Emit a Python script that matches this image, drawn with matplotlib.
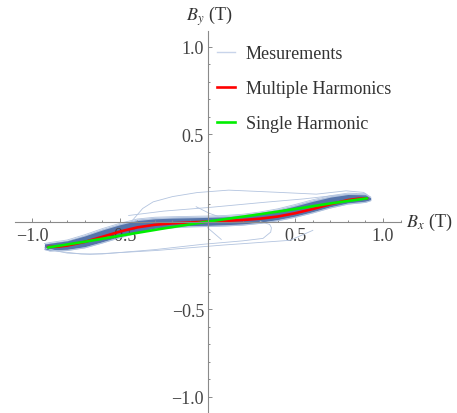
import matplotlib
matplotlib.use("Agg")
import matplotlib.pyplot as plt
from matplotlib.lines import Line2D
from matplotlib.ticker import FixedLocator, MultipleLocator, FuncFormatter

plt.rcParams['font.family'] = ['Liberation Serif', 'DejaVu Serif']
plt.rcParams['mathtext.fontset'] = 'stix'

# measurement band (dense cloud of measured loops)
mes_x = [-0.93, -0.9, -0.8, -0.7, -0.6, -0.5, -0.4, -0.3, -0.2, -0.1, 0.0,
         0.1, 0.2, 0.3, 0.4, 0.5, 0.6, 0.7, 0.8, 0.9, 0.93]
mes_outer_up = [-0.125, -0.12, -0.105, -0.075, -0.04, -0.01, 0.015, 0.025, 0.028, 0.03, 0.032,
                0.035, 0.042, 0.055, 0.073, 0.098, 0.125, 0.148, 0.163, 0.16, 0.14]
mes_outer_lo = [-0.16, -0.168, -0.165, -0.15, -0.122, -0.092, -0.065, -0.045, -0.035, -0.03, -0.028,
                -0.025, -0.02, -0.01, 0.005, 0.025, 0.05, 0.078, 0.1, 0.11, 0.12]
mes_inner_up = [-0.128, -0.124, -0.11, -0.082, -0.048, -0.018, 0.006, 0.016, 0.02, 0.022, 0.024,
                0.027, 0.034, 0.046, 0.064, 0.089, 0.116, 0.14, 0.155, 0.153, 0.136]
mes_inner_lo = [-0.157, -0.162, -0.158, -0.143, -0.115, -0.085, -0.058, -0.038, -0.028, -0.023, -0.021,
                -0.018, -0.013, -0.003, 0.012, 0.032, 0.057, 0.085, 0.107, 0.117, 0.124]

# stray measured loops
stray_a_x = [-0.43, -0.40, -0.37, -0.31, -0.2, -0.06, 0.12, 0.41, 0.62, 0.79, 0.89, 0.93]
stray_a_y = [0.005, 0.04, 0.075, 0.113, 0.143, 0.166, 0.18, 0.167, 0.157, 0.176, 0.167, 0.138]
stray_b_x = [-0.45, -0.25, 0.01, 0.32, 0.55, 0.7, 0.85]
stray_b_y = [0.035, 0.06, 0.081, 0.11, 0.13, 0.147, 0.16]
stray_c_x = [-0.9, -0.8, -0.67, -0.29, 0.09, 0.47, 0.6]
stray_c_y = [-0.16, -0.18, -0.187, -0.165, -0.134, -0.107, -0.05]
stray_d_x = [-0.93, -0.85, -0.72, -0.6, -0.3, -0.03, 0.2, 0.316, 0.36, 0.364, 0.354, 0.3]
stray_d_y = [-0.15, -0.17, -0.185, -0.185, -0.16, -0.13, -0.11, -0.096, -0.06, -0.035, -0.016, 0.0]
stray_e_x = [-0.065, 0.011, 0.06]
stray_e_y = [0.085, 0.047, 0.03]
stray_f_x = [0.0, 0.078]
stray_f_y = [-0.035, -0.102]

# fits
multi_x = [-0.91, -0.85, -0.8, -0.7, -0.6, -0.5, -0.4, -0.3, -0.2, -0.1, 0.0,
           0.1, 0.2, 0.3, 0.4, 0.5, 0.6, 0.7, 0.8, 0.86, 0.91]
multi_y = [-0.145, -0.143, -0.137, -0.116, -0.087, -0.057, -0.033, -0.018, -0.010, -0.005, 0.0,
           0.004, 0.009, 0.017, 0.029, 0.048, 0.072, 0.099, 0.123, 0.131, 0.133]
single_x = [-0.91, -0.7, -0.5, -0.25, 0.0, 0.25, 0.5, 0.7, 0.91]
single_y = [-0.148, -0.115, -0.081, -0.039, 0.0, 0.035, 0.072, 0.104, 0.133]

major_ticks = [-1.0, -0.5, 0.5, 1.0]

fig = plt.figure(figsize=(4.57, 4.14), dpi=100)
ax = fig.add_axes([0.0339, 0.0018, 0.8425, 0.921])
ax.set_xlim(-1.095, 1.1)
ax.set_ylim(-1.09, 1.09)

light = '#b3c4df'
ax.fill_between(mes_x, mes_outer_lo, mes_outer_up, color='#7f9cc9', alpha=0.6, lw=0)
ax.fill_between(mes_x, mes_inner_lo, mes_inner_up, color='#4b6ca5', alpha=0.9, lw=0)
ax.plot(mes_x, mes_outer_up, color=light, lw=0.6)
ax.plot(mes_x, mes_outer_lo, color=light, lw=0.6)
for sx, sy in [(stray_a_x, stray_a_y), (stray_b_x, stray_b_y), (stray_c_x, stray_c_y),
               (stray_d_x, stray_d_y), (stray_e_x, stray_e_y), (stray_f_x, stray_f_y)]:
    ax.plot(sx, sy, color=light, lw=0.6)

ax.plot(multi_x, multi_y, color='#ff0000', lw=1.9, solid_capstyle='round')
ax.plot(single_x, single_y, color='#00ee00', lw=1.9, solid_capstyle='round')

# axes through the origin, Mathematica style
gray = '#8a8a8a'
for s in ['top', 'right']:
    ax.spines[s].set_visible(False)
ax.spines['left'].set_position('zero')
ax.spines['bottom'].set_position('zero')
for s in ['left', 'bottom']:
    ax.spines[s].set_color(gray)
    ax.spines[s].set_linewidth(0.8)
ax.patch.set_visible(False)

fmt = FuncFormatter(lambda v, p: f"{v:.1f}".replace('-', '\u2212'))
for axis in [ax.xaxis, ax.yaxis]:
    axis.set_major_locator(FixedLocator(major_ticks))
    axis.set_minor_locator(MultipleLocator(0.1))
    axis.set_major_formatter(fmt)
ax.tick_params(which='both', direction='in', color=gray, width=0.7, labelsize=13, labelcolor='#444444')
ax.tick_params(which='major', length=2.8)
ax.tick_params(which='minor', length=1.6)
ax.tick_params(axis='x', pad=4)
ax.tick_params(axis='y', pad=2.5)

ax.text(1.13, 0.0, '$B_x$ (T)', fontsize=13, color='#333333', ha='left', va='center', clip_on=False)
ax.text(-0.125, 1.18, '$B_y$ (T)', fontsize=13, color='#333333', ha='left', va='center', clip_on=False)

handles = [Line2D([], [], color='#c8d4ea', lw=1.0),
           Line2D([], [], color='#ff0000', lw=1.9),
           Line2D([], [], color='#00ee00', lw=1.9)]
labels = ['Mesurements', 'Multiple Harmonics', 'Single Harmonic']
leg = ax.legend(handles, labels, loc='upper left', bbox_to_anchor=(208 / 457, 1 - 37 / 414),
                bbox_transform=fig.transFigure, frameon=False, fontsize=13, borderpad=0,
                handlelength=1.0, handletextpad=0.6, labelspacing=1.0)
for t in leg.get_texts():
    t.set_color('#333333')

plt.savefig('out.png', dpi=100)
